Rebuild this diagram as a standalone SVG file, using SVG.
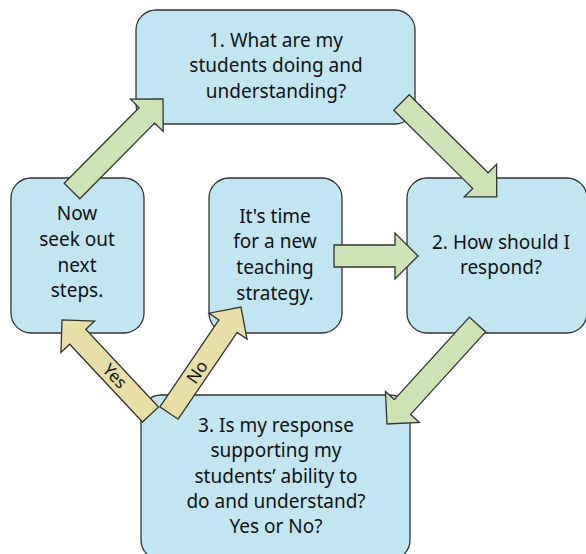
<svg xmlns="http://www.w3.org/2000/svg" width="586" height="554" viewBox="0 0 586 554">
<style>
.box{fill:#c2e6f1;stroke:#333;stroke-width:1.3}
.g{fill:#cde3b3;stroke:#333;stroke-width:1.3;stroke-linejoin:miter}
.y{fill:#e8dfa6;stroke:#333;stroke-width:1.3;stroke-linejoin:miter}
text{font-family:"Noto Sans","Open Sans",sans-serif;font-size:19px;fill:#111;text-anchor:middle}
.lbl{font-size:17px}
</style>
<rect width="586" height="554" fill="#fff"/>
<g id="node1"><rect class="box" x="136" y="10" width="279" height="114" rx="20"/>
<text x="276" y="47">1. What are my</text><text x="276" y="72">students doing and</text><text x="276" y="98">understanding?</text></g>
<g id="node-now"><rect class="box" x="11" y="178" width="133" height="155" rx="20"/>
<text x="77" y="220">Now</text><text x="77" y="246">seek out</text><text x="77" y="272">next</text><text x="77" y="297">steps.</text></g>
<g id="node-time"><rect class="box" x="209" y="178" width="133" height="155" rx="20"/>
<text x="275" y="223">It's time</text><text x="275" y="248">for a new</text><text x="275" y="274">teaching</text><text x="275" y="300">strategy.</text></g>
<g id="node2"><rect class="box" x="407" y="178" width="180" height="155" rx="20"/>
<text x="501" y="249">2. How should I</text><text x="501" y="274">respond?</text></g>
<g id="node3"><rect class="box" x="141" y="395" width="269" height="165" rx="20"/>
<text x="276" y="432">3. Is my response</text><text x="276" y="457">supporting my</text><text x="276" y="483">students’ ability to</text><text x="276" y="508">do and understand?</text><text x="276" y="533">Yes or No?</text></g>
<g id="connectors">
<polygon class="g" transform="translate(72,191) rotate(-45.3)" points="0,-11 106.4,-11 106.4,-23 129.4,0 106.4,23 106.4,11 0,11"/>
<polygon class="g" transform="translate(401.5,102.5) rotate(44.7)" points="0,-11 111,-11 111,-23 134,0 111,23 111,11 0,11"/>
<polygon class="g" transform="translate(334,256)" points="0,-11 61,-11 61,-23 84,0 61,23 61,11 0,11"/>
<polygon class="g" transform="translate(477.5,324.5) rotate(132.3)" points="0,-11 111.5,-11 111.5,-23 134.5,0 111.5,23 111.5,11 0,11"/>
<polygon class="y" transform="translate(150.5,414.5) rotate(-133.1)" points="0,-11 106.5,-11 106.5,-23 129.5,0 106.5,23 106.5,11 0,11"/>
<polygon class="y" transform="translate(169,413) rotate(-55.8)" points="0,-11 105,-11 105,-23 128,0 105,23 105,11 0,11"/>
<text class="lbl" transform="translate(115,376) rotate(46.9)" y="6">Yes</text>
<text class="lbl" transform="translate(197,372) rotate(-55.8)" y="6">No</text>
</g>
</svg>
